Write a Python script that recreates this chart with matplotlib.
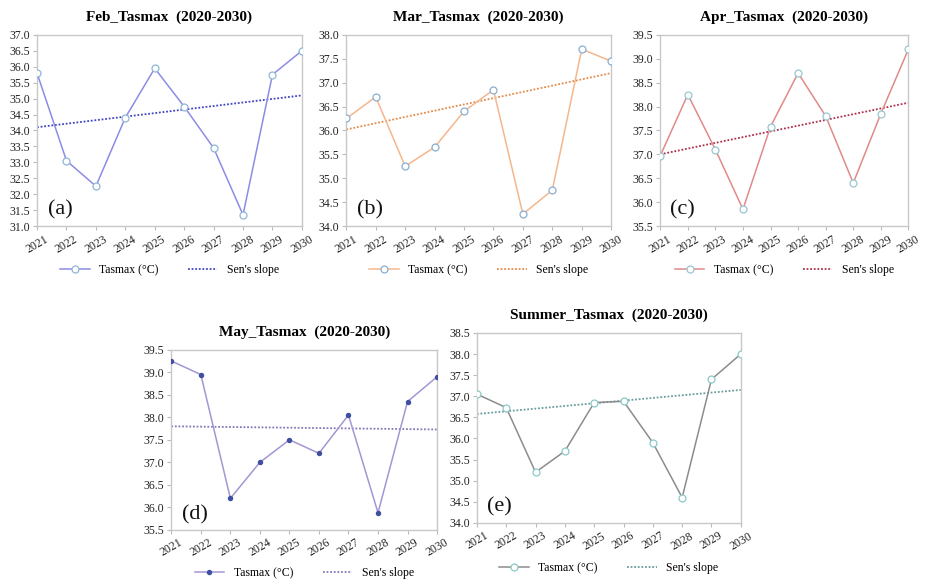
import numpy as np
import matplotlib
matplotlib.use('Agg')
import matplotlib.pyplot as plt

plt.rcParams['font.family'] = ['Liberation Serif', 'DejaVu Serif']

years = [2021, 2022, 2023, 2024, 2025, 2026, 2027, 2028, 2029, 2030]

feb = [35.8, 33.05, 32.25, 34.4, 35.95, 34.75, 33.45, 31.35, 35.75, 36.5]
mar = [36.25, 36.7, 35.25, 35.65, 36.4, 36.85, 34.25, 34.75, 37.7, 37.45]
apr = [36.97, 38.25, 37.1, 35.85, 37.58, 38.7, 37.8, 36.4, 37.85, 39.2]
may = [39.25, 38.95, 36.2, 37.0, 37.5, 37.2, 38.05, 35.88, 38.35, 38.9]
summer = [37.05, 36.73, 35.2, 35.7, 36.85, 36.88, 35.9, 34.6, 37.4, 38.0]

# Sen's slope line end points (2021, 2030)
feb_sen = [34.1, 35.1]
mar_sen = [36.02, 37.2]
apr_sen = [37.0, 38.08]
may_sen = [37.8, 37.73]
summer_sen = [36.58, 37.15]

titles = ['Feb_Tasmax  (2020-2030)', 'Mar_Tasmax  (2020-2030)', 'Apr_Tasmax  (2020-2030)',
          'May_Tasmax  (2020-2030)', 'Summer_Tasmax  (2020-2030)']
labels = ['(a)', '(b)', '(c)', '(d)', '(e)']
ylims = [(31.0, 37.0), (34.0, 38.0), (35.5, 39.5), (35.5, 39.5), (34.0, 38.5)]

panels = [
    dict(data=feb, sen=feb_sen, pos=[0.040, 0.611, 0.286, 0.329],
         line='#8c8ce6', sencol='#3f44c4', mfc='white', mec='#8fb6d6', ms=5),
    dict(data=mar, sen=mar_sen, pos=[0.374, 0.611, 0.286, 0.329],
         line='#f6b68c', sencol='#e58a48', mfc='white', mec='#8aaed0', ms=5),
    dict(data=apr, sen=apr_sen, pos=[0.713, 0.611, 0.268, 0.329],
         line='#e08a8a', sencol='#b0304c', mfc='white', mec='#98c6d0', ms=5),
    dict(data=may, sen=may_sen, pos=[0.185, 0.088, 0.287, 0.310],
         line='#a496d4', sencol='#8676b8', mfc='#4050a0', mec='#4050a0', ms=3),
    dict(data=summer, sen=summer_sen, pos=[0.515, 0.100, 0.285, 0.327],
         line='#8c8c8c', sencol='#6a9c9c', mfc='white', mec='#8cc8c8', ms=5),
]

legend_y = [0.535, 0.535, 0.535, 0.014, 0.022]

fig = plt.figure(figsize=(9.26, 5.81), dpi=100)

for i, p in enumerate(panels):
    ax = fig.add_axes(p['pos'])
    ax.plot(years, p['data'], color=p['line'], lw=1.1, marker='o',
            mfc=p['mfc'], mec=p['mec'], ms=p['ms'], mew=0.9, label='Tasmax (°C)', zorder=3)
    ax.plot([years[0], years[-1]], p['sen'], color=p['sencol'], lw=1.3, ls=(0, (1, 1)),
            label="Sen's slope", zorder=2)
    ax.set_xlim(years[0], years[-1])
    ax.set_ylim(*ylims[i])
    ax.set_yticks(np.arange(ylims[i][0], ylims[i][1] + 0.01, 0.5))
    ax.yaxis.set_major_formatter(matplotlib.ticker.FormatStrFormatter('%.1f'))
    ax.set_xticks(years)
    ax.set_xticklabels([str(y) for y in years], rotation=30, ha='center')
    ax.tick_params(axis='both', labelsize=8.5, length=3, color='#bbbbbb', labelcolor='#222222', pad=2)
    for s in ax.spines.values():
        s.set_color('#c8c8c8')
        s.set_linewidth(1.0)
    ax.set_title(titles[i], fontsize=11, fontweight='bold', pad=10)
    ax.text(0.04, 0.06, labels[i], transform=ax.transAxes, fontsize=16, color='#111111')
    trans = matplotlib.transforms.blended_transform_factory(ax.transAxes, fig.transFigure)
    ax.legend(loc='center', bbox_to_anchor=(0.5, legend_y[i]), bbox_transform=trans,
              ncol=2, frameon=False, fontsize=8.5, handlelength=2.5, columnspacing=2.5)

fig.savefig('out.png', dpi=100, facecolor='white')
